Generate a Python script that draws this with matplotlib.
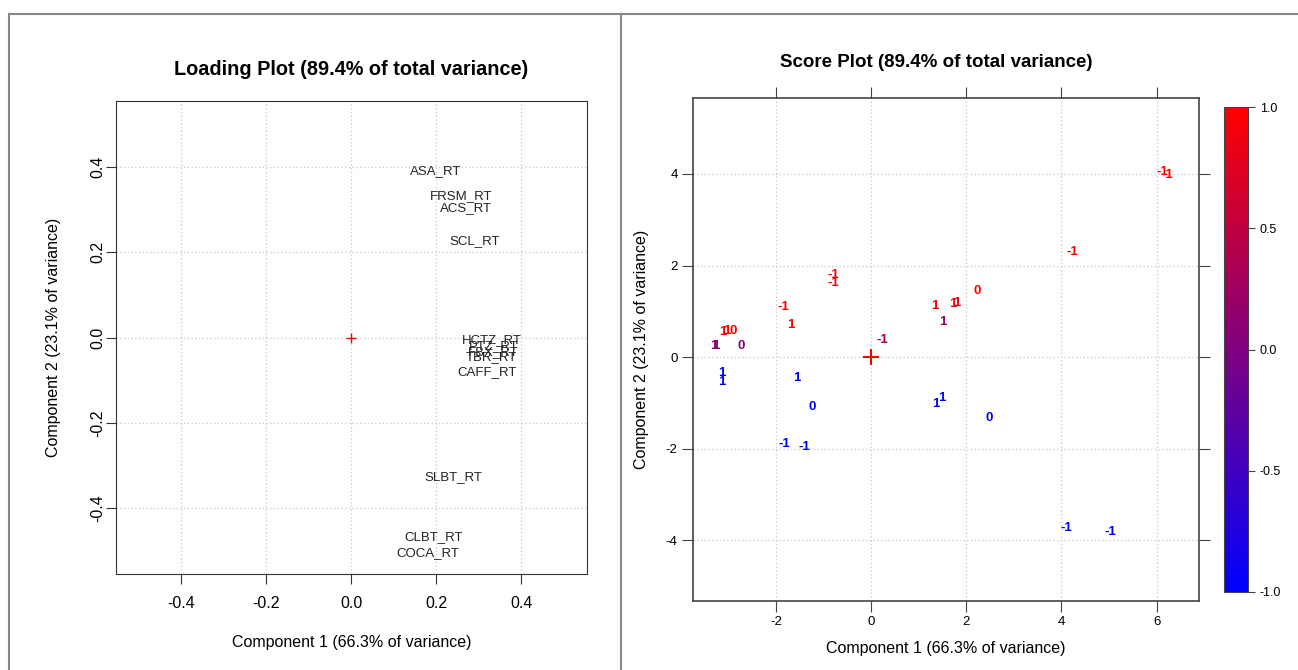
import numpy as np
import matplotlib
matplotlib.use("Agg")
import matplotlib.pyplot as plt
from matplotlib.colors import LinearSegmentedColormap, Normalize
from matplotlib.lines import Line2D
from matplotlib.colorbar import ColorbarBase

plt.rcParams['font.family'] = ['Liberation Sans', 'DejaVu Sans']
plt.rcParams['axes.unicode_minus'] = False

# loading plot data
load_names = ['ASA_RT', 'FRSM_RT', 'ACS_RT', 'SCL_RT', 'HCTZ_RT', 'PTZ_RT',
              'FBX_RT', 'TBR_RT', 'CAFF_RT', 'SLBT_RT', 'CLBT_RT', 'COCA_RT']
load_x = [0.20, 0.26, 0.27, 0.29, 0.33, 0.335, 0.335, 0.33, 0.32, 0.24, 0.195, 0.18]
load_y = [0.39, 0.332, 0.304, 0.227, -0.007, -0.020, -0.035, -0.045, -0.080, -0.327, -0.468, -0.505]

# score plot data: position, printed label and colour value
score_x = [6.13, 6.22, 4.24, 2.22, 1.34, 1.72, 1.80, 1.51, 1.37, 1.49, 2.49, 0.24,
           -0.80, -0.80, -1.85, -1.68, -3.11, -3.03, -2.89, -3.30, -3.26, -2.73,
           -3.13, -3.13, -1.56, -1.24, -1.83, -1.39, 4.11, 5.02]
score_y = [4.04, 3.98, 2.30, 1.44, 1.11, 1.17, 1.19, 0.77, -1.03, -0.89, -1.33, 0.37,
           1.79, 1.62, 1.09, 0.70, 0.55, 0.57, 0.57, 0.24, 0.24, 0.24,
           -0.35, -0.54, -0.46, -1.09, -1.90, -1.97, -3.74, -3.83]
score_lab = ['-1', '-1', '-1', '0', '1', '1', '1', '1', '1', '1', '0', '-1',
             '-1', '-1', '-1', '1', '1', '1', '0', '1', '1', '0',
             '1', '1', '1', '0', '-1', '-1', '-1', '-1']
score_val = [1, 1, 1, 1, 1, 1, 0.8, 0.2, -1, -1, -1, 0.3,
             1, 1, 1, 1, 1, 1, 1, 0.05, 0.05, 0.05,
             -1, -1, -1, -1, -1, -1, -1, -1]

W, H = 1298, 670
fig = plt.figure(figsize=(W / 100, H / 100), dpi=100)


def box(l, t, r, b):
    return [l / W, 1 - b / H, (r - l) / W, (b - t) / H]


grid_kw = dict(color='#c8c8c8', linestyle=(0, (1, 2)), linewidth=0.9)

# --- loading plot ---
ax1 = fig.add_axes(box(116, 101, 587, 574))
ax1.set_xlim(-0.553, 0.555)
ax1.set_ylim(-0.554, 0.554)
ticks = [-0.4, -0.2, 0.0, 0.2, 0.4]
ax1.set_xticks(ticks)
ax1.set_yticks(ticks)
ax1.set_xticklabels(['%.1f' % t for t in ticks])
ax1.set_yticklabels(['%.1f' % t for t in ticks], rotation=90, va='center')
for t in ticks:
    ax1.axvline(t, **grid_kw, zorder=0)
    ax1.axhline(t, **grid_kw, zorder=0)
ax1.tick_params(labelsize=11.5, length=7, color='#333333')
ax1.tick_params(axis='x', pad=9)
ax1.tick_params(axis='y', pad=1)
for s in ax1.spines.values():
    s.set_color('#333333')
for name, x, y in zip(load_names, load_x, load_y):
    ax1.text(x, y, name, fontsize=9.5, ha='center', va='center', color='#222222')
ax1.plot([0], [0], marker='+', color='red', markersize=7, mew=1)
ax1.set_xlabel('Component 1 (66.3% of variance)', fontsize=11.5, labelpad=17)
ax1.set_ylabel('Component 2 (23.1% of variance)', fontsize=11.5, labelpad=21)
ax1.set_title('Loading Plot (89.4% of total variance)', fontsize=14.3,
              fontweight='bold', pad=19)

# --- score plot ---
cmap = LinearSegmentedColormap.from_list('br', ['#0000ff', '#ff0000'])
norm = Normalize(-1, 1)

ax2 = fig.add_axes(box(693, 98, 1199, 601))
ax2.set_xlim(-3.74, 6.89)
ax2.set_ylim(-5.33, 5.66)
ax2.set_xticks([-2, 0, 2, 4, 6])
ax2.set_yticks([-4, -2, 0, 2, 4])
for t in [-2, 0, 2, 4, 6]:
    ax2.axvline(t, **grid_kw, zorder=0)
for t in [-4, -2, 0, 2, 4]:
    ax2.axhline(t, **grid_kw, zorder=0)
ax2.tick_params(labelsize=9.5, length=8, pad=3, color='#444444',
                top=True, right=True, direction='out')
for s in ax2.spines.values():
    s.set_color('#444444')
    s.set_linewidth(1.2)
for x, y, lab, v in zip(score_x, score_y, score_lab, score_val):
    ax2.text(x, y, lab, fontsize=9.5, fontweight='bold', ha='center', va='center',
             color=cmap(norm(v)))
ax2.plot([0], [0], marker='+', color='red', markersize=11, mew=1.5)
ax2.set_xlabel('Component 1 (66.3% of variance)', fontsize=11.5, labelpad=9)
ax2.set_ylabel('Component 2 (23.1% of variance)', fontsize=11.5, labelpad=12)
ax2.set_title('Score Plot (89.4% of total variance)', fontsize=13.5,
              fontweight='bold', pad=22, x=0.48)

cax = fig.add_axes(box(1224, 107, 1248, 592))
cb = ColorbarBase(cax, cmap=cmap, norm=norm, ticks=[-1, -0.5, 0, 0.5, 1])
cb.set_ticklabels(['-1.0', '-0.5', '0.0', '0.5', '1.0'])
cax.tick_params(labelsize=9, length=5, color='#444444')
cb.outline.set_edgecolor('#444444')

# panel frames
fc = '#888888'
for xs, ys in [([9 / W, 9 / W], [0, 1 - 14 / H]),
               ([9 / W, 1], [1 - 14 / H, 1 - 14 / H]),
               ([621 / W, 621 / W], [0, 1 - 14 / H])]:
    fig.add_artist(Line2D(xs, ys, color=fc, linewidth=1.5))

fig.savefig('out.png', dpi=100)
